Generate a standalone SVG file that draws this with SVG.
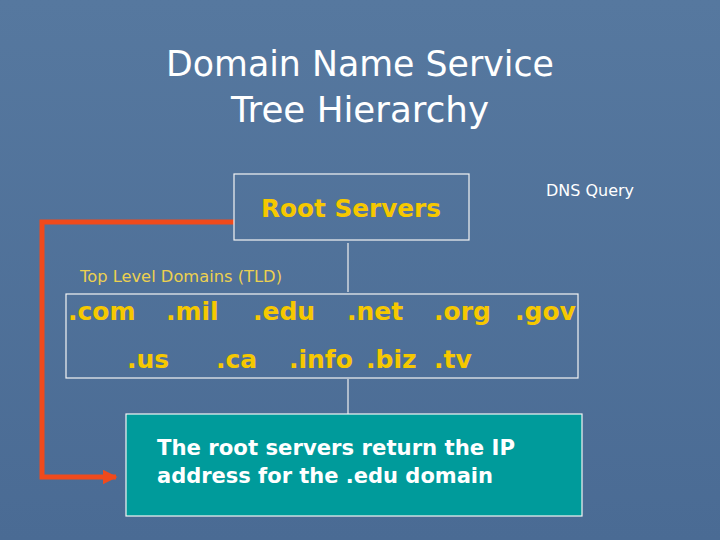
<svg xmlns="http://www.w3.org/2000/svg" width="720" height="540" viewBox="0 0 720 540">
<defs>
<linearGradient id="bg" x1="0" y1="0" x2="0" y2="1">
<stop offset="0" stop-color="#56789f"/><stop offset="1" stop-color="#4a6b94"/>
</linearGradient>
<marker id="ah" viewBox="0 0 10 10" refX="9" refY="5" markerWidth="3" markerHeight="3" orient="auto" markerUnits="strokeWidth"><path d="M0,0 L10,5 L0,10 z" fill="#f04a1c"/></marker>
</defs>
<style>
.box{fill:none;stroke:#f4f4f4;stroke-width:1.2}
.y{font-family:"DejaVu Sans",Verdana,sans-serif;font-weight:bold;fill:#f6c800}
.t{font-family:"DejaVu Sans",Verdana,sans-serif;font-weight:normal;fill:#ecd050}
.w{font-family:"DejaVu Sans",Verdana,sans-serif;fill:#ffffff}
.ln{stroke:#f0f0f0;stroke-width:1.2;fill:none}
</style>
<rect width="720" height="540" fill="url(#bg)"/>
<text x="360" y="76" text-anchor="middle" class="w" font-size="36" textLength="388" lengthAdjust="spacingAndGlyphs">Domain Name Service</text>
<text x="360" y="122" text-anchor="middle" class="w" font-size="36" textLength="258" lengthAdjust="spacingAndGlyphs">Tree Hierarchy</text>
<g id="connectors">
<line class="ln" x1="348" y1="243" x2="348" y2="292"/>
<line class="ln" x1="348" y1="379" x2="348" y2="414"/>
<polyline points="234,222 42,222 42,477 116,477" fill="none" stroke="#f04a1c" stroke-width="5" marker-end="url(#ah)"/>
</g>
<g id="root">
<rect class="box" x="234" y="174" width="235" height="66"/>
<text x="351" y="217" text-anchor="middle" class="y" font-size="24" textLength="180" lengthAdjust="spacingAndGlyphs">Root Servers</text>
</g>
<g id="dnsquery"><text x="590" y="196" text-anchor="middle" class="w" font-size="15" textLength="88" lengthAdjust="spacingAndGlyphs">DNS Query</text></g>
<g id="tld">
<text x="80" y="282" class="t" font-size="15" textLength="202" lengthAdjust="spacingAndGlyphs">Top Level Domains (TLD)</text>
<rect class="box" x="66" y="294" width="512" height="84"/>
<text y="320" class="y" font-size="25"><tspan x="68">.com</tspan><tspan x="166">.mil</tspan><tspan x="253">.edu</tspan><tspan x="347">.net</tspan><tspan x="434">.org</tspan><tspan x="515">.gov</tspan></text>
<text y="368" class="y" font-size="25"><tspan x="127">.us</tspan><tspan x="216">.ca</tspan><tspan x="289">.info</tspan><tspan x="366">.biz</tspan><tspan x="434">.tv</tspan></text>
</g>
<g id="answer">
<rect x="126" y="414" width="456" height="102" fill="#009b9b" stroke="#f4f4f4" stroke-width="1.2"/>
<text x="157" y="455" class="w" font-weight="bold" font-size="21" textLength="358" lengthAdjust="spacingAndGlyphs">The root servers return the IP</text>
<text x="157" y="483" class="w" font-weight="bold" font-size="21" textLength="336" lengthAdjust="spacingAndGlyphs">address for the .edu domain</text>
</g>
</svg>
